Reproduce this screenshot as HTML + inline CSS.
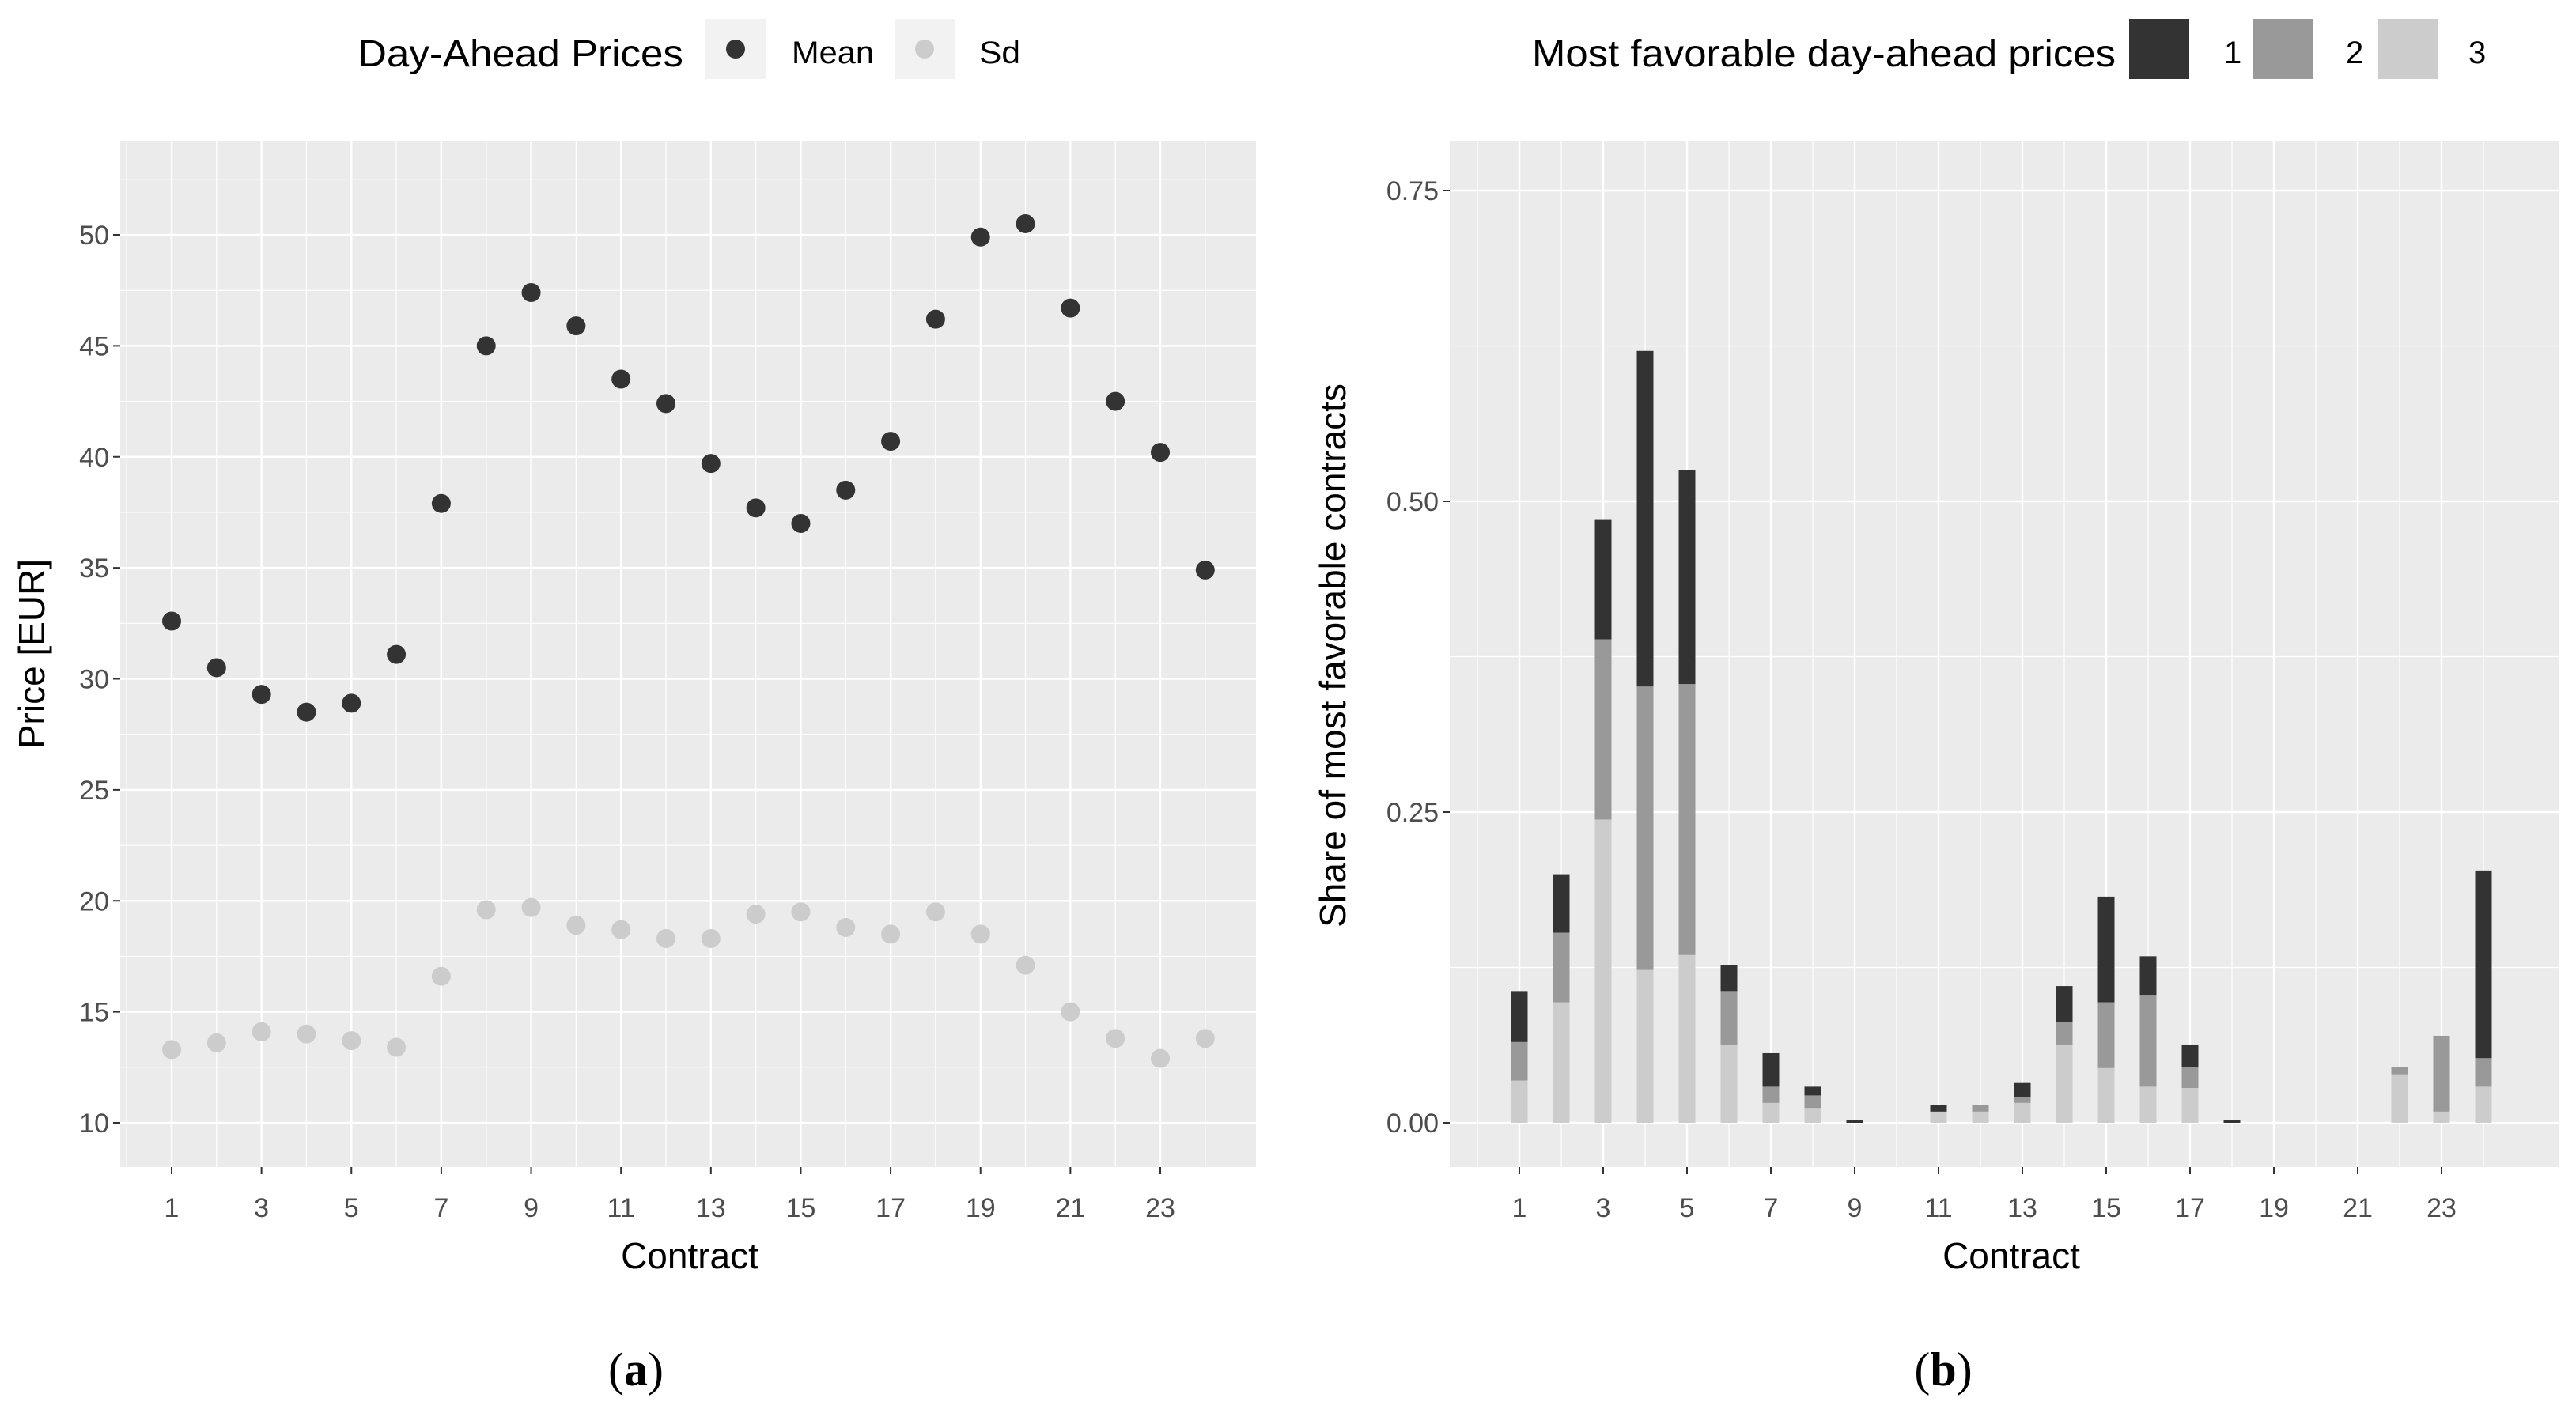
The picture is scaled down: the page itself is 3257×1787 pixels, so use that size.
<!DOCTYPE html>
<html><head><meta charset="utf-8"><style>
html,body{margin:0;padding:0;background:#fff;}
svg{display:block;font-family:"Liberation Sans",Arial,sans-serif;}
</style></head><body>
<svg id="fig" width="3257" height="1787" viewBox="0 0 3257 1787" xmlns="http://www.w3.org/2000/svg">
<g id="left"></g>
<g id="right"></g>
<text x="804" y="1752" font-family="Liberation Serif, serif" font-size="60" text-anchor="middle">(<tspan font-weight="bold">a</tspan>)</text>
<text x="2457" y="1752" font-family="Liberation Serif, serif" font-size="60" text-anchor="middle">(<tspan font-weight="bold">b</tspan>)</text>
</svg>
<script>
const contracts = [1,2,3,4,5,6,7,8,9,10,11,12,13,14,15,16,17,18,19,20,21,22,23,24];
const meanPrice = [32.6,30.5,29.3,28.5,28.9,31.1,37.9,45.0,47.4,45.9,43.5,42.4,39.7,37.7,37.0,38.5,40.7,46.2,49.9,50.5,46.7,42.5,40.2,34.9];
const sdPrice = [13.3,13.6,14.1,14.0,13.7,13.4,16.6,19.6,19.7,18.9,18.7,18.3,18.3,19.4,19.5,18.8,18.5,19.5,18.5,17.1,15.0,13.8,12.9,13.8];
const leftYTicks = [10,15,20,25,30,35,40,45,50];
const xTicks = [1,3,5,7,9,11,13,15,17,19,21,23];
const rightYTicks = [0,0.25,0.5,0.75];
const rightYLabels = ["0.00","0.25","0.50","0.75"];
const rank3 = [0.034,0.097,0.244,0.123,0.135,0.063,0.016,0.012,0,0,0.009,0.009,0.016,0.063,0.044,0.029,0.028,0,0,0,0,0.039,0.009,0.029];
const rank2 = [0.031,0.056,0.145,0.228,0.218,0.043,0.013,0.010,0,0,0,0.005,0.005,0.018,0.053,0.074,0.017,0,0,0,0,0.006,0.061,0.023];
const rank1 = [0.041,0.047,0.096,0.270,0.172,0.021,0.027,0.007,0.002,0,0.005,0,0.011,0.029,0.085,0.031,0.018,0.002,0,0,0,0,0,0.151];

const NS="http://www.w3.org/2000/svg";
function mk(parent, tag, attrs, text){
  const e=document.createElementNS(NS,tag);
  for(const k in attrs) e.setAttribute(k,attrs[k]);
  if(text!==undefined) e.textContent=text;
  parent.appendChild(e); return e;
}
const TXT="#4d4d4d";
const PR=12;

/* ---------- LEFT ---------- */
const L=document.getElementById('left');
const lp={x0:152,x1:1588,y0:178,y1:1476};
const lx=v=>217+(v-1)*(1467-217)/22;
const ly=v=>1420-(v-10)*(1420-297)/40;
let r=mk(L,'rect',{x:lp.x0,y:lp.y0,width:lp.x1-lp.x0,height:lp.y1-lp.y0,fill:'#ebebeb'});


for(let v=12.5; v<54; v+=5){
  const l=mk(L,'line',{x1:lp.x0,x2:lp.x1,y1:ly(v),y2:ly(v),stroke:'#fff','stroke-width':1.2});
  
  
}
for(let v=0; v<=24; v+=2){
  const l=mk(L,'line',{x1:lx(v),x2:lx(v),y1:lp.y0,y2:lp.y1,stroke:'#fff','stroke-width':1.2});
  
  
}
leftYTicks.forEach(v=>{
  const l=mk(L,'line',{x1:lp.x0,x2:lp.x1,y1:ly(v),y2:ly(v),stroke:'#fff','stroke-width':2.4});
  
  
  const t=mk(L,'line',{x1:lp.x0-9,x2:lp.x0,y1:ly(v),y2:ly(v),stroke:'#333','stroke-width':2});
  
  
  const tx=mk(L,'text',{x:lp.x0-14,y:ly(v)+12,'font-size':34,fill:TXT,'text-anchor':'end'},String(v));
  
  
});
xTicks.forEach(v=>{
  const l=mk(L,'line',{x1:lx(v),x2:lx(v),y1:lp.y0,y2:lp.y1,stroke:'#fff','stroke-width':2.4});
  
  
  const t=mk(L,'line',{x1:lx(v),x2:lx(v),y1:lp.y1,y2:lp.y1+9,stroke:'#333','stroke-width':2});
  
  
  const tx=mk(L,'text',{x:lx(v),y:1539,'font-size':34,fill:TXT,'text-anchor':'middle'},String(v));
  
  
});
contracts.forEach((c,i)=>{
  const p=mk(L,'circle',{cx:lx(c),cy:ly(sdPrice[i]),r:PR,fill:'#cccccc'});
  
  
});
contracts.forEach((c,i)=>{
  const p=mk(L,'circle',{cx:lx(c),cy:ly(meanPrice[i]),r:PR,fill:'#333333'});
  
  
});
let t=mk(L,'text',{x:872,y:1604,'font-size':46,fill:'#000','text-anchor':'middle'},'Contract');


t=mk(L,'text',{x:0,y:0,'font-size':46,fill:'#000','text-anchor':'middle',transform:'translate(56,827) rotate(-90)'},'Price [EUR]');


/* legend left */
t=mk(L,'text',{x:452,y:84,'font-size':48,fill:'#000',textLength:412,lengthAdjust:'spacingAndGlyphs'},'Day-Ahead Prices');


r=mk(L,'rect',{x:892,y:24,width:76,height:76,fill:'#f2f2f2'});


r=mk(L,'circle',{cx:930,cy:62,r:PR,fill:'#333'});


t=mk(L,'text',{x:1001,y:80,'font-size':40,fill:'#000',textLength:104,lengthAdjust:'spacingAndGlyphs'},'Mean');


r=mk(L,'rect',{x:1131,y:24,width:76,height:76,fill:'#f2f2f2'});


r=mk(L,'circle',{cx:1169,cy:62,r:PR,fill:'#ccc'});


t=mk(L,'text',{x:1238,y:80,'font-size':40,fill:'#000',textLength:52,lengthAdjust:'spacingAndGlyphs'},'Sd');



/* ---------- RIGHT ---------- */
const R=document.getElementById('right');
const rp={x0:1833,x1:3236,y0:178,y1:1476};
const rx=v=>1921+(v-1)*(3087-1921)/22;
const ry=v=>1420-v*(1420-241)/0.75;
r=mk(R,'rect',{x:rp.x0,y:rp.y0,width:rp.x1-rp.x0,height:rp.y1-rp.y0,fill:'#ebebeb'});


[0.125,0.375,0.625].forEach(v=>{
  const l=mk(R,'line',{x1:rp.x0,x2:rp.x1,y1:ry(v),y2:ry(v),stroke:'#fff','stroke-width':1.2});
  
  
});
for(let v=0; v<=24; v+=2){
  const l=mk(R,'line',{x1:rx(v),x2:rx(v),y1:rp.y0,y2:rp.y1,stroke:'#fff','stroke-width':1.2});
  
  
}
rightYTicks.forEach((v,i)=>{
  const l=mk(R,'line',{x1:rp.x0,x2:rp.x1,y1:ry(v),y2:ry(v),stroke:'#fff','stroke-width':2.4});
  
  
  const tk=mk(R,'line',{x1:rp.x0-9,x2:rp.x0,y1:ry(v),y2:ry(v),stroke:'#333','stroke-width':2});
  
  
  const tx=mk(R,'text',{x:rp.x0-14,y:ry(v)+12,'font-size':34,fill:TXT,'text-anchor':'end'},rightYLabels[i]);
  
  
});
xTicks.forEach(v=>{
  const l=mk(R,'line',{x1:rx(v),x2:rx(v),y1:rp.y0,y2:rp.y1,stroke:'#fff','stroke-width':2.4});
  
  
  const tk=mk(R,'line',{x1:rx(v),x2:rx(v),y1:rp.y1,y2:rp.y1+9,stroke:'#333','stroke-width':2});
  
  
  const tx=mk(R,'text',{x:rx(v),y:1539,'font-size':34,fill:TXT,'text-anchor':'middle'},String(v));
  
  
});
const bw=21;
contracts.forEach((c,i)=>{
  const segs=[[rank3[i],'#cccccc','bar-rank-3'],[rank2[i],'#999999','bar-rank-2'],[rank1[i],'#333333','bar-rank-1']];
  let base=0;
  segs.forEach(s=>{
    if(s[0]>0){
      const b=mk(R,'rect',{x:rx(c)-bw/2,y:ry(base+s[0]),width:bw,height:ry(base)-ry(base+s[0]),fill:s[1]});
      
      
    }
    base+=s[0];
  });
});
t=mk(R,'text',{x:2543,y:1604,'font-size':46,fill:'#000','text-anchor':'middle'},'Contract');


t=mk(R,'text',{x:0,y:0,'font-size':46,fill:'#000','text-anchor':'middle',transform:'translate(1701,829) rotate(-90)'},'Share of most favorable contracts');


t=mk(R,'text',{x:1937,y:84,'font-size':48,fill:'#000',textLength:738,lengthAdjust:'spacingAndGlyphs'},'Most favorable day-ahead prices');


[[2706,'#333333','1',2812],[2863,'#999999','2',2966],[3021,'#cccccc','3',3121]].forEach(k=>{
  const kr=mk(R,'rect',{x:k[0]-14,y:24,width:76,height:76,fill:k[1]});
  
  
  const kt=mk(R,'text',{x:k[3],y:80,'font-size':40,fill:'#000'},k[2]);
  
  
});
</script>
</body></html>
